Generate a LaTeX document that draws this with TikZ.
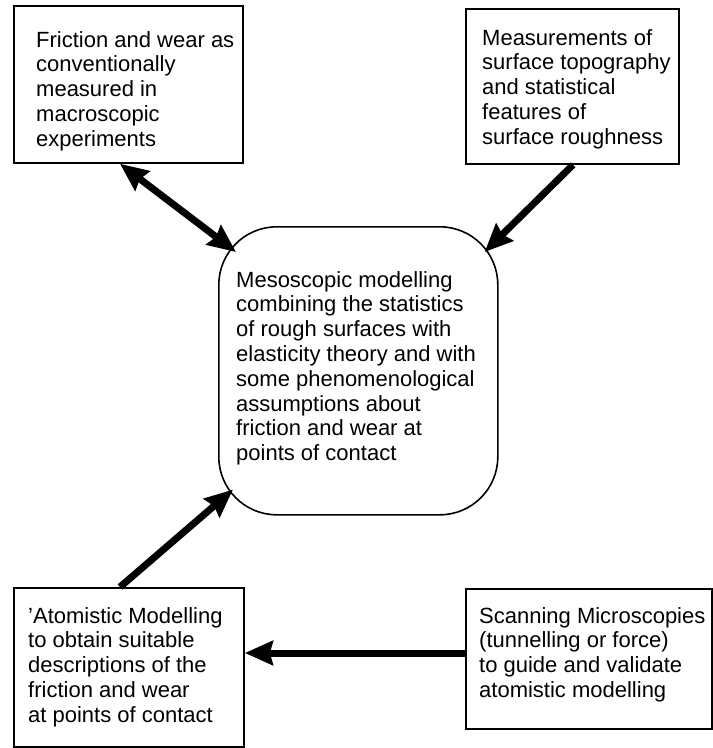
\documentclass[tikz,border=0pt]{standalone}
\usepackage{fontspec}
\setmainfont{Liberation Sans}
\usetikzlibrary{arrows.meta,calc}
\begin{document}
\begin{tikzpicture}[x=1pt,y=-1pt,
  sqbox/.style={draw, line width=1.8pt, inner sep=0pt, anchor=north west},
  mesobox/.style={draw, line width=1.6pt, rounded corners=58pt, inner sep=0pt, anchor=north west},
  txt/.style={inner sep=0pt, anchor=north west, align=left, font=\fontsize{22}{24.8}\selectfont},
  fat/.style={line width=7pt, -{Stealth[length=28pt,width=24pt,inset=3pt]}},
  fatboth/.style={line width=7pt, {Stealth[length=28pt,width=24pt,inset=3pt]}-{Stealth[length=28pt,width=24pt,inset=3pt]}}
]
\useasboundingbox (0,0) rectangle (713,748);
% boxes
\node[sqbox, minimum width=229pt, minimum height=157pt] (tl) at (13,5) {};
\node[sqbox, minimum width=213pt, minimum height=155pt] (tr) at (465,8) {};
\node[mesobox, minimum width=279pt, minimum height=288pt] (meso) at (218,226) {};
\node[sqbox, minimum width=230pt, minimum height=159pt] (bl) at (13,587) {};
\node[sqbox, minimum width=246pt, minimum height=140pt] (br) at (465,588) {};
% texts
\node[txt] (tltxt) at (36,31) {Friction and wear as\\conventionally\\measured in\\macroscopic\\experiments};
\node[txt] (trtxt) at (482,29) {Measurements of\\surface topography\\and statistical\\features of\\surface roughness};
\node[txt] (mesotxt) at (236,271) {Mesoscopic modelling\\combining the statistics\\of rough surfaces with\\elasticity theory and with\\some phenomenological\\assumptions about\\friction and wear at\\points of contact};
\node[txt] (bltxt) at (28,607) {'Atomistic Modelling\\to obtain suitable\\descriptions of the\\friction and wear\\at points of contact};
\node[txt] (brtxt) at (479,607) {Scanning Microscopies\\(tunnelling or force)\\to guide and validate\\atomistic modelling};
% connectors
\coordinate (a1s) at ($(tl.south west)+(107,0)$);
\coordinate (a1e) at ($(meso.north west)+(18,26)$);
\draw[fatboth] (a1s) -- (a1e);
\coordinate (a2s) at ($(tr.south west)+(108,0)$);
\coordinate (a2e) at ($(meso.north east)+(-14,26)$);
\draw[fat] (a2s) -- (a2e);
\coordinate (a3s) at ($(bl.north west)+(107,0)$);
\coordinate (a3e) at ($(meso.south west)+(15,-26)$);
\draw[fat] (a3s) -- (a3e);
\coordinate (a4s) at ($(br.north west)+(0,65)$);
\coordinate (a4e) at ($(bl.north east)+(0,66)$);
\draw[fat] (a4s) -- (a4e);
\end{tikzpicture}
\end{document}
